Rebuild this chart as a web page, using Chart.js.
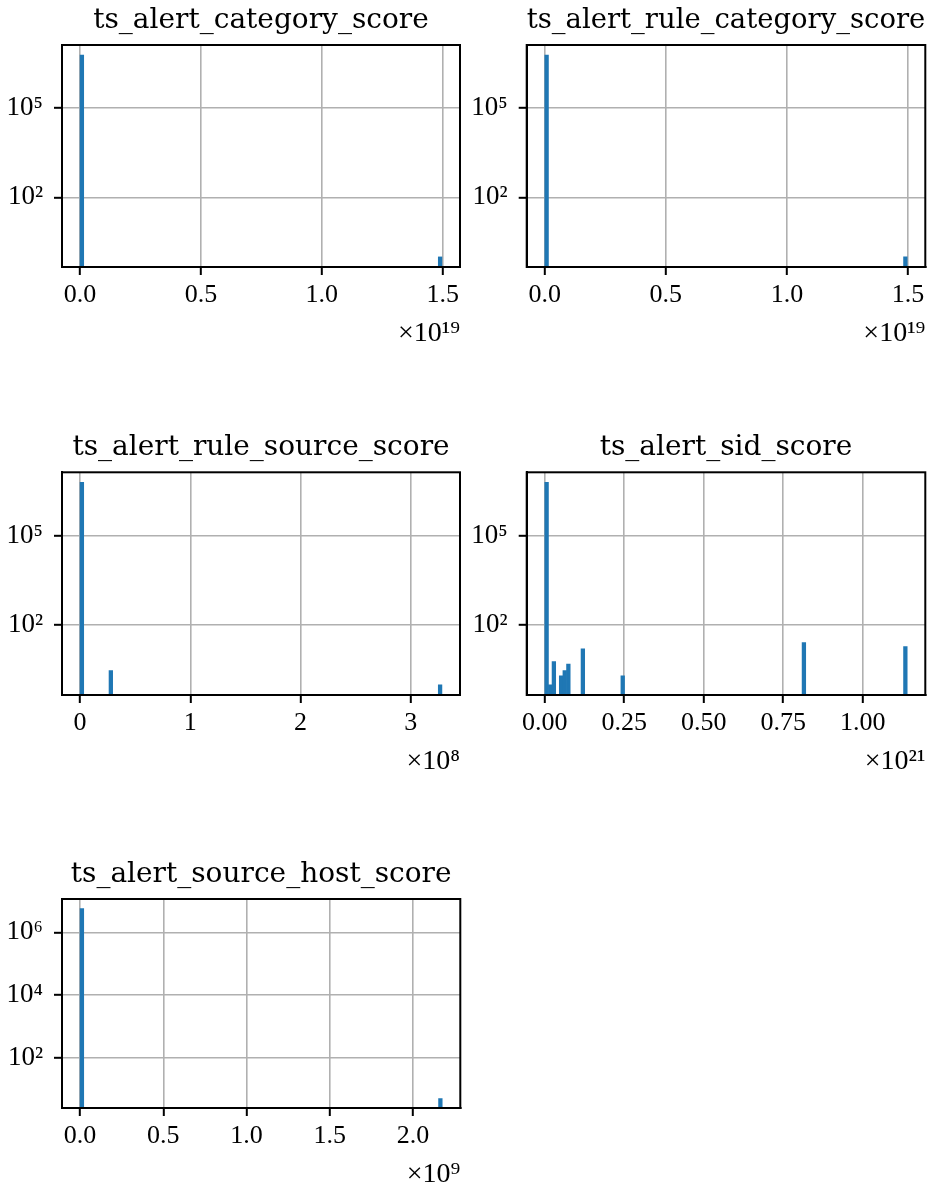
<!DOCTYPE html>
<html>
<head>
<meta charset="utf-8">
<script src="https://cdn.jsdelivr.net/npm/chart.js@4/dist/chart.umd.min.js"></script>
<style>
html, body { margin: 0; padding: 0; background: #ffffff; }
#wrap { position: relative; width: 936px; height: 1201px; overflow: hidden; background: #ffffff; }
canvas { position: absolute; }
</style>
</head>
<body>
<div id="wrap">
  <canvas id="c1" width="468" height="360" style="left:0px;top:0px;width:468px;height:360px"></canvas>
  <canvas id="c2" width="468" height="360" style="left:468px;top:0px;width:468px;height:360px"></canvas>
  <canvas id="c3" width="468" height="368" style="left:0px;top:420px;width:468px;height:368px"></canvas>
  <canvas id="c4" width="468" height="368" style="left:468px;top:420px;width:468px;height:368px"></canvas>
  <canvas id="c5" width="468" height="351" style="left:0px;top:850px;width:468px;height:351px"></canvas>
</div>
<script>
// ---------------- data ----------------
const titles = [
  'ts_alert_category_score',
  'ts_alert_rule_category_score',
  'ts_alert_rule_source_score',
  'ts_alert_sid_score',
  'ts_alert_source_host_score'
];
const binCount = 100;

// non-empty histogram bins (bin index) and their counts
const categoryBins = [0, 99];
const categoryCounts = [6.0e6, 1];
const categoryRange = [0, 1.497e19];

const ruleCategoryBins = [0, 99];
const ruleCategoryCounts = [6.0e6, 1];
const ruleCategoryRange = [0, 1.497e19];

const ruleSourceBins = [0, 8, 99];
const ruleSourceCounts = [6.0e6, 3, 1];
const ruleSourceRange = [0, 3.283e8];

const sidBins = [0, 1, 2, 4, 5, 6, 10, 21, 71, 99];
const sidCounts = [6.0e6, 1, 6, 2, 3, 5, 16, 2, 26, 19];
const sidRange = [0, 1.14e21];

const hostBins = [0, 99];
const hostCounts = [5.75e6, 5];
const hostRange = [0, 2.175e9];

// tick values and labels
const x19Ticks = [0, 0.5e19, 1.0e19, 1.5e19];
const x19Labels = ['0.0', '0.5', '1.0', '1.5'];
const x19Offset = '×10¹⁹';

const x8Ticks = [0, 1e8, 2e8, 3e8];
const x8Labels = ['0', '1', '2', '3'];
const x8Offset = '×10⁸';

const x21Ticks = [0, 0.25e21, 0.5e21, 0.75e21, 1.0e21];
const x21Labels = ['0.00', '0.25', '0.50', '0.75', '1.00'];
const x21Offset = '×10²¹';

const x9Ticks = [0, 0.5e9, 1.0e9, 1.5e9, 2.0e9];
const x9Labels = ['0.0', '0.5', '1.0', '1.5', '2.0'];
const x9Offset = '×10⁹';

const yTicksA = [1e2, 1e5];
const yLabelsA = ['10²', '10⁵'];
const yTicksB = [1e2, 1e4, 1e6];
const yLabelsB = ['10²', '10⁴', '10⁶'];

// ---------------- layout / style ----------------
const BAR_COLOR = '#1f77b4';
const GRID_COLOR = '#b0b0b0';
const TITLE_FONT = { family: "'DejaVu Serif', serif", size: 28, weight: 'normal' };
const XTICK_FONT = { family: "'Liberation Serif', 'DejaVu Serif', serif", size: 26, weight: 'normal' };
const YTICK_FONT = { family: "'Liberation Serif', 'DejaVu Serif', serif", size: 27, weight: 'normal' };
const OFFSET_FONT = { family: "'Liberation Serif', 'DejaVu Serif', serif", size: 28, weight: 'normal' };
const X_AXIS_H = 93;

const panels = [
  { id: 'c1', title: titles[0], bins: categoryBins, counts: categoryCounts, range: categoryRange,
    xTicks: x19Ticks, xLabels: x19Labels, offset: x19Offset, yTicks: yTicksA, yLabels: yLabelsA,
    yW: 62, padR: 8, top: 45 },
  { id: 'c2', title: titles[1], bins: ruleCategoryBins, counts: ruleCategoryCounts, range: ruleCategoryRange,
    xTicks: x19Ticks, xLabels: x19Labels, offset: x19Offset, yTicks: yTicksA, yLabels: yLabelsA,
    yW: 58.7, padR: 10.7, top: 45 },
  { id: 'c3', title: titles[2], bins: ruleSourceBins, counts: ruleSourceCounts, range: ruleSourceRange,
    xTicks: x8Ticks, xLabels: x8Labels, offset: x8Offset, yTicks: yTicksA, yLabels: yLabelsA,
    yW: 62, padR: 8, top: 52.3 },
  { id: 'c4', title: titles[3], bins: sidBins, counts: sidCounts, range: sidRange,
    xTicks: x21Ticks, xLabels: x21Labels, offset: x21Offset, yTicks: yTicksA, yLabels: yLabelsA,
    yW: 58.7, padR: 10.7, top: 52.3 },
  { id: 'c5', title: titles[4], bins: hostBins, counts: hostCounts, range: hostRange,
    xTicks: x9Ticks, xLabels: x9Labels, offset: x9Offset, yTicks: yTicksB, yLabels: yLabelsB,
    yW: 62, padR: 7.7, top: 49 }
];

function buildHistogram(bins, counts, range) {
  const w = (range[1] - range[0]) / binCount;
  const data = [];
  for (let i = 0; i < binCount; i++) {
    const k = bins.indexOf(i);
    data.push({ x: range[0] + (i + 0.5) * w, y: k >= 0 ? counts[k] : null });
  }
  return data;
}

const framePlugin = {
  id: 'frame',
  afterDraw(chart) {
    const a = chart.chartArea;
    const ctx = chart.ctx;
    ctx.save();
    ctx.strokeStyle = '#000000';
    ctx.lineWidth = 2;
    ctx.strokeRect(a.left, a.top, a.right - a.left, a.bottom - a.top);
    ctx.restore();
  }
};

panels.forEach(p => {
  const span = p.range[1] - p.range[0];
  const lmin = Math.log10(Math.min(...p.counts));
  const lmax = Math.log10(Math.max(...p.counts));
  const lspan = lmax - lmin;
  const titleLine = TITLE_FONT.size * 1.2;
  const titlePadBottom = 7.9;
  const titlePadTop = p.top - titleLine - titlePadBottom;

  new Chart(document.getElementById(p.id), {
    type: 'bar',
    data: {
      datasets: [{
        data: buildHistogram(p.bins, p.counts, p.range),
        backgroundColor: BAR_COLOR,
        borderWidth: 0,
        barPercentage: 1.0,
        categoryPercentage: 1.0
      }]
    },
    options: {
      responsive: false,
      animation: false,
      devicePixelRatio: 1,
      layout: { padding: { left: 0, right: p.padR, top: 0, bottom: 0 } },
      plugins: {
        legend: { display: false },
        tooltip: { enabled: false },
        title: {
          display: true, text: p.title, fullSize: false, color: '#000000',
          font: TITLE_FONT, padding: { top: titlePadTop, bottom: titlePadBottom }
        }
      },
      scales: {
        x: {
          type: 'linear',
          offset: false,
          z: 1,
          min: p.range[0] - 0.05 * span,
          max: p.range[1] + 0.05 * span,
          afterBuildTicks: s => { s.ticks = p.xTicks.map(v => ({ value: v })); },
          afterFit: s => { s.height = X_AXIS_H; },
          ticks: {
            autoSkip: false, maxRotation: 0, color: '#000000', font: XTICK_FONT, padding: 5,
            callback: (v, i) => p.xLabels[i]
          },
          grid: {
            offset: false, color: GRID_COLOR, lineWidth: 1.6, drawTicks: true,
            tickColor: '#000000', tickWidth: 2, tickLength: 8
          },
          border: { display: true, color: '#000000', width: 2 },
          title: {
            display: true, text: p.offset, align: 'end', color: '#000000', font: OFFSET_FONT,
            padding: { top: 0, bottom: 10 }
          }
        },
        y: {
          type: 'logarithmic',
          z: 1,
          min: Math.pow(10, lmin - 0.05 * lspan),
          max: Math.pow(10, lmax + 0.05 * lspan),
          afterBuildTicks: s => { s.ticks = p.yTicks.map(v => ({ value: v })); },
          afterFit: s => { s.width = p.yW; },
          ticks: {
            autoSkip: false, color: '#000000', font: YTICK_FONT, padding: 11,
            callback: (v, i) => p.yLabels[i]
          },
          grid: {
            color: GRID_COLOR, lineWidth: 1.6, drawTicks: true,
            tickColor: '#000000', tickWidth: 2, tickLength: 8
          },
          border: { display: true, color: '#000000', width: 2 }
        }
      }
    },
    plugins: [framePlugin]
  });
});
</script>
</body>
</html>
